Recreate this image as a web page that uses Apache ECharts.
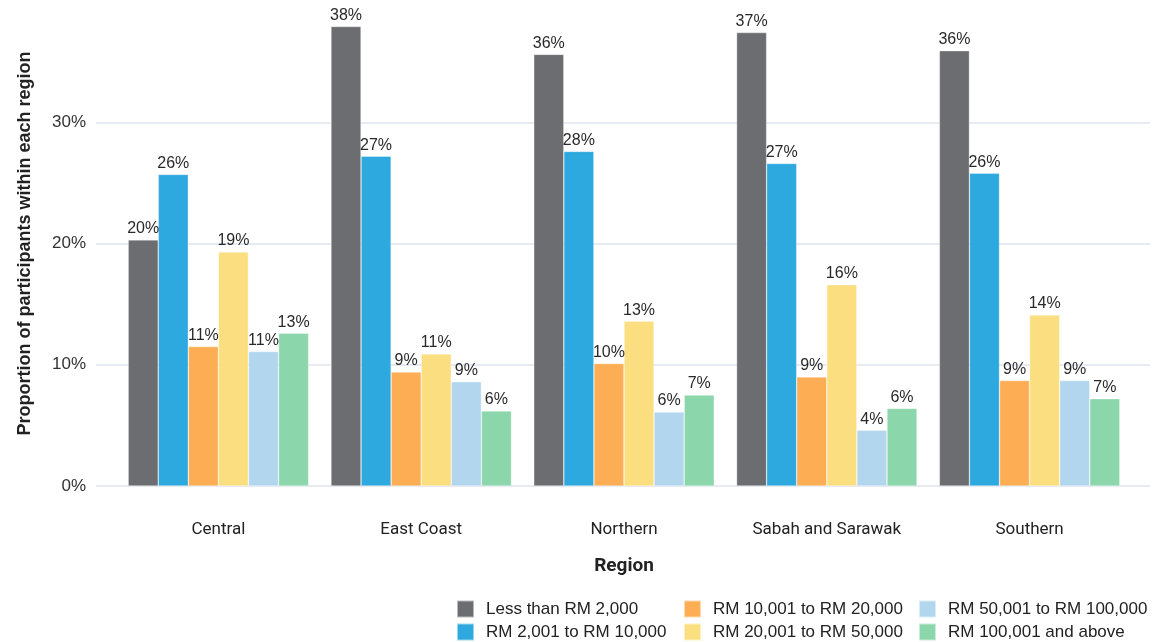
<!DOCTYPE html>
<html>
<head>
<meta charset="utf-8">
<script src="https://cdn.jsdelivr.net/npm/echarts@6/dist/echarts.min.js"></script>
<style>html,body{margin:0;padding:0;background:#fff;}#c{width:1165px;height:642px;}</style>
</head>
<body>
<div id="c"></div>
<script>
var regions = ['Central', 'East Coast', 'Northern', 'Sabah and Sarawak', 'Southern'];
var seriesNames = ['Less than RM 2,000', 'RM 2,001 to RM 10,000', 'RM 10,001 to RM 20,000', 'RM 20,001 to RM 50,000', 'RM 50,001 to RM 100,000', 'RM 100,001 and above'];
var colors = ['#67686b', '#27a6de', '#fdab4e', '#fbdd7b', '#b0d5ed', '#88d5a8'];

var lessThan2000   = [20.3, 37.9, 35.6, 37.4, 35.9];
var rm2001to10000  = [25.7, 27.2, 27.6, 26.6, 25.8];
var rm10001to20000 = [11.5, 9.4, 10.1, 9.0, 8.7];
var rm20001to50000 = [19.3, 10.9, 13.6, 16.6, 14.1];
var rm50001to100000= [11.1, 8.6, 6.1, 4.6, 8.7];
var rm100001above  = [12.6, 6.2, 7.5, 6.4, 7.2];

var lbl2000   = [20, 38, 36, 37, 36];
var lbl10000  = [26, 27, 28, 27, 26];
var lbl20000  = [11, 9, 10, 9, 9];
var lbl50000  = [19, 11, 13, 16, 14];
var lbl100000 = [11, 9, 6, 4, 9];
var lblAbove  = [13, 6, 7, 6, 7];

var yTicks = [0, 10, 20, 30];

var values = [lessThan2000, rm2001to10000, rm10001to20000, rm20001to50000, rm50001to100000, rm100001above];
var labels = [lbl2000, lbl10000, lbl20000, lbl50000, lbl100000, lblAbove];

var FONT = 'Liberation Sans, Arial, sans-serif';
var chart = echarts.init(document.getElementById('c'));

var series = values.map(function (v, i) {
  return {
    name: seriesNames[i],
    type: 'bar',
    xAxisIndex: 0,
    yAxisIndex: 0,
    data: v,
    barGap: '0%',
    barCategoryGap: '11%',
    itemStyle: { color: colors[i], borderColor: 'rgba(255,255,255,0.55)', borderWidth: 0.6, opacity: 0.97 },
    label: {
      show: true,
      position: 'top',
      distance: 3,
      color: '#222',
      fontSize: 16,
      fontFamily: FONT,
      formatter: function (p) { return labels[p.seriesIndex][p.dataIndex] + '%'; }
    },
    emphasis: { disabled: true }
  };
});

function legendCol(names, left) {
  return {
    orient: 'vertical',
    left: left,
    top: 599,
    height: 43,
    padding: 0,
    itemWidth: 17,
    itemHeight: 17,
    itemGap: 3,
    icon: 'rect',
    data: names,
    selectedMode: false,
    textStyle: { fontSize: 17, lineHeight: 20, color: '#222', fontFamily: FONT, padding: [0, 0, 0, 7] }
  };
}

chart.setOption({
  animation: false,
  color: colors,
  grid: [
    { left: 117, right: 34, top: 1, bottom: 156 },
    { left: 96, right: 15, top: 1, bottom: 156 }
  ],
  legend: [
    legendCol([seriesNames[0], seriesNames[1]], 456),
    legendCol([seriesNames[2], seriesNames[3]], 683),
    legendCol([seriesNames[4], seriesNames[5]], 918)
  ],
  xAxis: [
    {
      type: 'category',
      gridIndex: 0,
      data: regions,
      axisLine: { show: false },
      axisTick: { show: false },
      axisLabel: { margin: 35, fontSize: 17, color: '#222', fontFamily: 'Roboto, sans-serif' },
      name: 'Region',
      nameLocation: 'middle',
      nameGap: 71,
      nameTextStyle: { fontSize: 19, fontWeight: 'bold', color: '#222', fontFamily: 'Roboto, sans-serif' }
    },
    { type: 'value', gridIndex: 1, show: false, min: 0, max: 1 }
  ],
  yAxis: [
    { type: 'value', gridIndex: 0, min: 0, max: 40, show: false },
    {
      type: 'value',
      gridIndex: 1,
      min: 0,
      max: 40,
      interval: 10,
      axisLine: { show: false },
      axisTick: { show: false },
      axisLabel: {
        margin: 10,
        fontSize: 17,
        color: '#333',
        fontFamily: FONT,
        showMaxLabel: false,
        formatter: function (v) { return yTicks.indexOf(v) >= 0 ? v + '%' : ''; }
      },
      splitLine: { show: true, showMaxLine: false, lineStyle: { color: '#dfe4ec', width: 1.5 } },
      name: 'Proportion of participants within each region',
      nameLocation: 'middle',
      nameGap: 62,
      nameTextStyle: { fontSize: 18, fontWeight: 'bold', color: '#222', fontFamily: FONT }
    }
  ],
  series: series
});
</script>
</body>
</html>
